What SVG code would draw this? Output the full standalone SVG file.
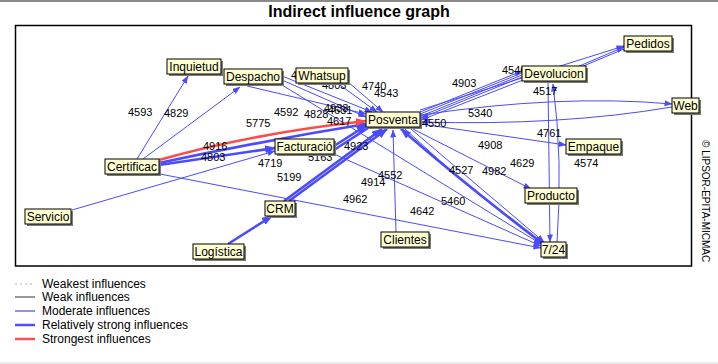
<svg xmlns="http://www.w3.org/2000/svg" width="718" height="364" viewBox="0 0 718 364">
<style>
text{font-family:"Liberation Sans",Arial,sans-serif;fill:#000}
.t{font-size:16px;font-weight:bold}
.n{font-size:12px}
.l{font-size:11px}
.g{font-size:12px}
.m{fill:none;stroke:#4a4aff;stroke-width:1}
.s{fill:none;stroke:#4a4aff;stroke-width:2.6}
.r{fill:none;stroke:#ff4a4a;stroke-width:2.6}
.box{fill:#ffffd2;stroke:#000;stroke-width:1}
.sh{fill:#7a7a7a}
</style>
<defs>
<marker id="am" markerUnits="userSpaceOnUse" markerWidth="8" markerHeight="6" refX="7.5" refY="3" orient="auto"><path d="M0,0 L8,3 L0,6 z" fill="#4a4aff"/></marker>
<marker id="as" markerUnits="userSpaceOnUse" markerWidth="11" markerHeight="8" refX="10" refY="4" orient="auto"><path d="M0,0 L11,4 L0,8 z" fill="#4a4aff"/></marker>
<marker id="ar" markerUnits="userSpaceOnUse" markerWidth="11" markerHeight="8" refX="10" refY="4" orient="auto"><path d="M0,0 L11,4 L0,8 z" fill="#ff4a4a"/></marker>
</defs>
<rect x="0" y="0" width="718" height="2" fill="#8a8a8a"/>
<rect x="0" y="362" width="718" height="2" fill="#ececec"/>
<text class="t" x="359" y="17" text-anchor="middle">Indirect influence graph</text>
<rect x="15.5" y="25.5" width="676" height="240.5" fill="none" stroke="#000" stroke-width="1.5"/>
<text x="0" y="0" transform="translate(702,140) rotate(90)" style="font-size:10px">© LIPSOR-EPITA-MICMAC</text>

<g id="connectors">
<path class="m" marker-end="url(#am)" d="M137,159 L188,76"/>
<path class="m" marker-end="url(#am)" d="M143,159 L240,87"/>
<path class="m" marker-end="url(#am)" d="M160,174 L541,248"/>
<path class="m" marker-end="url(#am)" d="M72,210 L275,151"/>
<path class="m" marker-end="url(#am)" d="M334,154 L541,246"/>
<path class="m" marker-end="url(#am)" d="M282,85 L541,244"/>
<path class="m" marker-end="url(#am)" d="M247,86 L366,114"/>
<path class="m" marker-end="url(#am)" d="M282,80 L366,117"/>
<path class="m" marker-end="url(#am)" d="M282,76 L372,112"/>
<path class="m" marker-end="url(#am)" d="M340,85 L377,112"/>
<path class="m" marker-end="url(#am)" d="M348,82 L383,112"/>
<path class="m" marker-end="url(#am)" d="M420,112 L522,71"/>
<path class="m" d="M420,114 L522,73"/>
<path class="m" d="M421,116 L522,75"/>
<path class="m" marker-end="url(#am)" d="M522,77 L421,118"/>
<path class="m" marker-end="url(#am)" d="M523,80 L421,120"/>
<path class="m" marker-end="url(#am)" d="M420,110 L624,46"/>
<path class="m" marker-end="url(#am)" d="M577,67 L624,47"/>
<path class="m" d="M581,67 L624,49"/>
<path class="m" marker-end="url(#am)" d="M421,115 Q560,94 672,104"/>
<path class="m" marker-end="url(#am)" d="M672,107 Q560,126 421,122"/>
<path class="m" marker-end="url(#am)" d="M421,124 L566,145"/>
<path class="m" marker-end="url(#am)" d="M413,129 L531,189"/>
<path class="m" marker-end="url(#am)" d="M405,129 Q472,192 542,243"/>
<path class="m" marker-end="url(#am)" d="M411,129 L544,242"/>
<path class="m" marker-end="url(#am)" d="M396,232 L393,130"/>
<path class="m" marker-end="url(#am)" d="M548,83 L550,242"/>
<path class="m" marker-end="url(#am)" d="M557,242 Q563,160 553,84"/>
<path class="s" marker-end="url(#as)" d="M542,243 Q462,182 401,129"/>
<path class="s" marker-end="url(#as)" d="M159,165 L275,148"/>
<path class="s" marker-end="url(#as)" d="M159,163 Q262,141 366,124"/>
<path class="s" marker-end="url(#as)" d="M334,146 L367,125"/>
<path class="s" d="M334,150 L368,128"/>
<path class="s" marker-end="url(#as)" d="M284,201 L382,129"/>
<path class="s" marker-end="url(#as)" d="M289,201 L387,129"/>
<path class="s" marker-end="url(#as)" d="M228,244 L272,216"/>
<path class="r" marker-end="url(#ar)" d="M159,160 Q255,133 366,121"/>
</g>

<g id="labels" class="l">
<text class="l" x="128" y="116">4593</text>
<text class="l" x="164" y="117">4829</text>
<text class="l" x="246" y="127">5775</text>
<text class="l" x="274" y="116">4592</text>
<text class="l" x="304" y="118">4828</text>
<text class="l" x="324" y="112">4933</text>
<text class="l" x="328" y="114">4631</text>
<text class="l" x="327" y="125">4617</text>
<text class="l" x="203" y="150">4916</text>
<text class="l" x="201" y="161">4803</text>
<text class="l" x="258" y="167">4719</text>
<text class="l" x="277" y="181">5199</text>
<text class="l" x="308" y="161">5163</text>
<text class="l" x="344" y="150">4923</text>
<text class="l" x="362" y="90">4740</text>
<text class="l" x="374" y="97">4543</text>
<text class="l" x="322" y="89">4803</text>
<text class="l" x="291" y="79">4548</text>
<text class="l" x="452" y="87">4903</text>
<text class="l" x="502" y="74">4546</text>
<text class="l" x="533" y="95">4517</text>
<text class="l" x="468" y="117">5340</text>
<text class="l" x="422" y="127">4550</text>
<text class="l" x="537" y="137">4761</text>
<text class="l" x="478" y="149">4908</text>
<text class="l" x="510" y="167">4629</text>
<text class="l" x="574" y="167">4574</text>
<text class="l" x="449" y="174">4527</text>
<text class="l" x="482" y="175">4982</text>
<text class="l" x="378" y="179">4552</text>
<text class="l" x="361" y="186">4914</text>
<text class="l" x="343" y="203">4962</text>
<text class="l" x="441" y="205">5460</text>
<text class="l" x="410" y="215">4642</text>
</g>

<g id="node-inquietud"><rect class="sh" x="169" y="61" width="54" height="15"/><rect class="box" x="167" y="59" width="54" height="15"/><text class="n" x="194" y="71" text-anchor="middle">Inquietud</text></g>
<g id="node-despacho"><rect class="sh" x="226" y="71" width="58" height="15"/><rect class="box" x="224" y="69" width="58" height="15"/><text class="n" x="253" y="81" text-anchor="middle">Despacho</text></g>
<g id="node-whatsup"><rect class="sh" x="298" y="70" width="52" height="15"/><rect class="box" x="296" y="68" width="52" height="15"/><text class="n" x="322" y="80" text-anchor="middle">Whatsup</text></g>
<g id="node-pedidos"><rect class="sh" x="626" y="38" width="48" height="15"/><rect class="box" x="624" y="36" width="48" height="15"/><text class="n" x="648" y="48" text-anchor="middle">Pedidos</text></g>
<g id="node-devolucion"><rect class="sh" x="524" y="68" width="64" height="15"/><rect class="box" x="522" y="66" width="64" height="15"/><text class="n" x="554" y="78" text-anchor="middle">Devolucion</text></g>
<g id="node-web"><rect class="sh" x="674" y="100" width="27" height="15"/><rect class="box" x="672" y="98" width="27" height="15"/><text class="n" x="685.5" y="110" text-anchor="middle">Web</text></g>
<g id="node-posventa"><rect class="sh" x="368" y="114" width="54" height="15"/><rect class="box" x="366" y="112" width="54" height="15"/><text class="n" x="393" y="124" text-anchor="middle">Posventa</text></g>
<g id="node-empaque"><rect class="sh" x="568" y="141" width="55" height="15"/><rect class="box" x="566" y="139" width="55" height="15"/><text class="n" x="593.5" y="151" text-anchor="middle">Empaque</text></g>
<g id="node-certificac"><rect class="sh" x="107" y="161" width="54" height="15"/><rect class="box" x="105" y="159" width="54" height="15"/><text class="n" x="132" y="171" text-anchor="middle">Certificac</text></g>
<g id="node-facturacio"><rect class="sh" x="277" y="141" width="59" height="15"/><rect class="box" x="275" y="139" width="59" height="15"/><text class="n" x="304.5" y="151" text-anchor="middle">Facturació</text></g>
<g id="node-crm"><rect class="sh" x="267" y="203" width="30" height="15"/><rect class="box" x="265" y="201" width="30" height="15"/><text class="n" x="280" y="213" text-anchor="middle">CRM</text></g>
<g id="node-servicio"><rect class="sh" x="27" y="211" width="46" height="15"/><rect class="box" x="25" y="209" width="46" height="15"/><text class="n" x="48" y="221" text-anchor="middle">Servicio</text></g>
<g id="node-logistica"><rect class="sh" x="195" y="246" width="51" height="15"/><rect class="box" x="193" y="244" width="51" height="15"/><text class="n" x="218.5" y="256" text-anchor="middle">Logística</text></g>
<g id="node-clientes"><rect class="sh" x="383" y="234" width="48" height="15"/><rect class="box" x="381" y="232" width="48" height="15"/><text class="n" x="405" y="244" text-anchor="middle">Clientes</text></g>
<g id="node-producto"><rect class="sh" x="527" y="190" width="52" height="15"/><rect class="box" x="525" y="188" width="52" height="15"/><text class="n" x="551" y="200" text-anchor="middle">Producto</text></g>
<g id="node-724"><rect class="sh" x="543" y="244" width="25" height="15"/><rect class="box" x="541" y="242" width="25" height="15"/><text class="n" x="553.5" y="254" text-anchor="middle">7/24</text></g>

<g id="legend">
<line x1="15" y1="284" x2="35" y2="284" stroke="#b0b0b0" stroke-width="1" stroke-dasharray="2,3"/>
<line x1="15" y1="297" x2="35" y2="297" stroke="#333" stroke-width="1"/>
<line x1="15" y1="311" x2="35" y2="311" stroke="#2222dd" stroke-width="1"/>
<line x1="15" y1="325" x2="35" y2="325" stroke="#5050ff" stroke-width="2.5"/>
<line x1="15" y1="339" x2="35" y2="339" stroke="#ff5050" stroke-width="2.5"/>
<text class="g" x="42" y="288">Weakest influences</text>
<text class="g" x="42" y="301">Weak influences</text>
<text class="g" x="42" y="315">Moderate influences</text>
<text class="g" x="42" y="329">Relatively strong influences</text>
<text class="g" x="42" y="343">Strongest influences</text>
</g>
</svg>
